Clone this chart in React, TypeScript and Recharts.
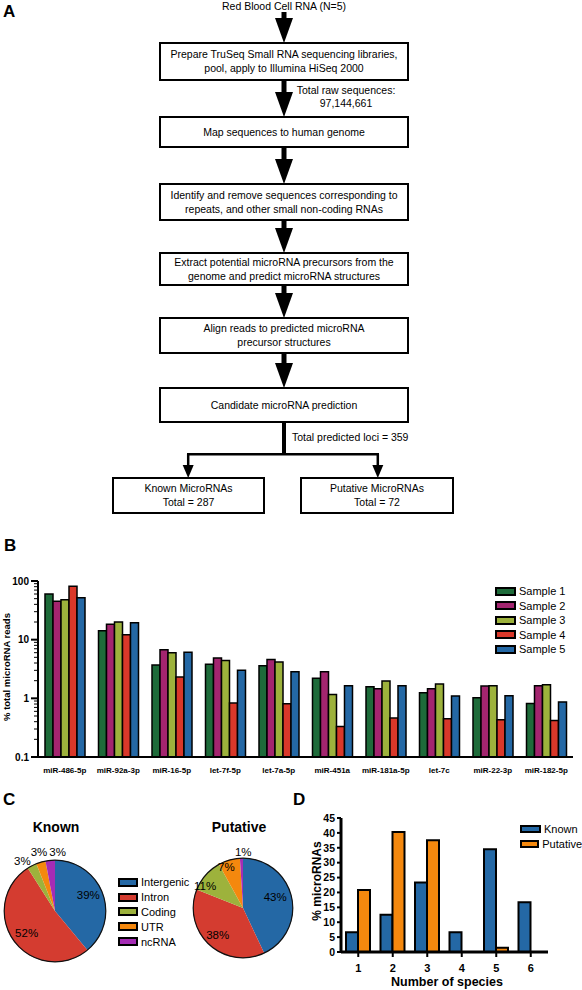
import React from 'react';
import { BarChart, Bar, XAxis, YAxis, PieChart, Pie, Cell, Legend } from 'recharts';

const FONT = '"Liberation Sans", Arial, Helvetica, sans-serif';

// ---------- Panel A (flowchart text) ----------
const flowSource = 'Red Blood Cell RNA (N=5)';
const flowSteps: string[][] = [
  ['Prepare TruSeq Small RNA sequencing libraries,', 'pool, apply to Illumina HiSeq 2000'],
  ['Map sequences to human genome'],
  ['Identify and remove sequences corresponding to', 'repeats, and other small non-coding RNAs'],
  ['Extract potential microRNA precursors from the', 'genome and predict microRNA structures'],
  ['Align reads to predicted microRNA', 'precursor structures'],
  ['Candidate microRNA prediction'],
];
const rawSeqNote = ['Total raw sequences:', '97,144,661'];
const lociNote = 'Total predicted loci = 359';
const knownBox = ['Known MicroRNAs', 'Total = 287'];
const putativeBox = ['Putative MicroRNAs', 'Total = 72'];

// ---------- Panel B ----------
const mirnaNames = ['miR-486-5p', 'miR-92a-3p', 'miR-16-5p', 'let-7f-5p', 'let-7a-5p', 'miR-451a', 'miR-181a-5p', 'let-7c', 'miR-22-3p', 'miR-182-5p'];
const sample1 = [60, 14.2, 3.7, 3.8, 3.6, 2.2, 1.58, 1.24, 1.02, 0.82];
const sample2 = [45, 18.4, 6.7, 4.85, 4.6, 2.83, 1.46, 1.45, 1.62, 1.64];
const sample3 = [48, 20, 6.0, 4.4, 4.15, 1.16, 1.97, 1.75, 1.64, 1.7];
const sample4 = [81, 12.1, 2.3, 0.83, 0.81, 0.33, 0.46, 0.45, 0.43, 0.42];
const sample5 = [52, 19.5, 6.1, 3.0, 2.85, 1.64, 1.64, 1.1, 1.11, 0.87];
const sampleNames = ['Sample 1', 'Sample 2', 'Sample 3', 'Sample 4', 'Sample 5'];
const sampleKeys = ['s1', 's2', 's3', 's4', 's5'];
const sampleColors = ['#1e6b3a', '#a3256f', '#9db23c', '#d9382a', '#2468a5'];
const logTicks = [0.1, 0.2, 0.3, 0.4, 0.5, 0.6, 0.7, 0.8, 0.9, 1, 2, 3, 4, 5, 6, 7, 8, 9, 10, 20, 30, 40, 50, 60, 70, 80, 90, 100];
const majorTicks = [0.1, 1, 10, 100];

// ---------- Panel C ----------
const regionNames = ['Intergenic', 'Intron', 'Coding', 'UTR', 'ncRNA'];
const knownPct = [39, 52, 3, 3, 3];
const putativePct = [43, 38, 11, 7, 1];
const regionColors = ['#2468a5', '#d43c30', '#9db23c', '#f4880e', '#a52cb5'];

// ---------- Panel D ----------
const speciesCounts = ['1', '2', '3', '4', '5', '6'];
const knownSpecies = [6.6, 12.5, 23.3, 6.6, 34.5, 16.7];
const putativeSpecies = [20.8, 40.3, 37.5, 0, 1.4, 0];
const speciesTicks = [0, 5, 10, 15, 20, 25, 30, 35, 40, 45];
const speciesSeries = ['Known', 'Putative'];
const speciesColors = ['#2468a5', '#f4880e'];

// ---------- built tables ----------
const mirnaData = mirnaNames.map((name, i) => ({
  name,
  s1: sample1[i],
  s2: sample2[i],
  s3: sample3[i],
  s4: sample4[i],
  s5: sample5[i],
}));
const knownPie = regionNames.map((name, i) => ({ name, value: knownPct[i] }));
const putativePie = regionNames.map((name, i) => ({ name, value: putativePct[i] }));
const ringData = [{ name: 'ring', value: 1 }];
const speciesData = speciesCounts.map((n, i) => ({ n, known: knownSpecies[i], putative: putativeSpecies[i] }));

// label placement styling (radius px, angle nudge deg)
const knownLabelR = [37, 36, 60, 61, 59];
const knownLabelA = [6, 2, 6, -1, -8];
const putLabelR = [34, 37, 44, 44, 56];
const putLabelA = [6, 0, 11, 6, -2];

const LogTick = (props: any) => {
  const { x, y, payload } = props;
  const v = payload.value;
  const major = majorTicks.includes(v);
  return (
    <g>
      <line x1={x - (major ? 7 : 4)} x2={x} y1={y} y2={y} stroke="#000" strokeWidth={major ? 2 : 1} />
      {major && (
        <text x={x - 9} y={y} dy={3.5} textAnchor="end" fontSize={10} fontWeight="bold" fill="#000" fontFamily={FONT}>
          {String(v)}
        </text>
      )}
    </g>
  );
};

const makePieLabel = (pcts: number[], radii: number[], nudges: number[]) => (p: any) => {
  const RAD = Math.PI / 180;
  const i = p.index;
  const a = (p.midAngle + nudges[i]) * RAD;
  const x = p.cx + radii[i] * Math.cos(a);
  const y = p.cy - radii[i] * Math.sin(a);
  return (
    <text key={`lbl-${i}`} x={x} y={y} dy={4} textAnchor="middle" fontSize={11.5} fill="#000" fontFamily={FONT}>
      {`${pcts[i]}%`}
    </text>
  );
};

const SwatchLegend = ({ names, colors, rowH, swW, swH }: { names: string[]; colors: string[]; rowH: number; swW: number; swH: number }) => (
  <div style={{ fontFamily: FONT, fontSize: 11, color: '#000' }}>
    {names.map((n, i) => (
      <div key={n} style={{ height: rowH, display: 'flex', alignItems: 'center', whiteSpace: 'nowrap' }}>
        <span
          style={{
            display: 'inline-block',
            width: swW,
            height: swH,
            boxSizing: 'border-box',
            background: colors[i],
            border: '2px solid #000',
            marginRight: 3,
          }}
        />
        <span>{n}</span>
      </div>
    ))}
  </div>
);

const Arrow = ({ x, y1, y2, shaft, headW, headH }: { x: number; y1: number; y2: number; shaft: number; headW: number; headH: number }) => (
  <g>
    <rect x={x - shaft / 2} y={y1} width={shaft} height={y2 - headH - y1 + 1} fill="#000" />
    <polygon points={`${x - headW / 2},${y2 - headH} ${x + headW / 2},${y2 - headH} ${x},${y2}`} fill="#000" />
  </g>
);

const BoxText = ({ x1, x2, y1, y2, lines }: { x1: number; x2: number; y1: number; y2: number; lines: string[] }) => {
  const cx = (x1 + x2) / 2;
  const cy = (y1 + y2) / 2;
  const lh = 14;
  const start = cy - ((lines.length - 1) * lh) / 2;
  return (
    <g>
      <rect x={x1} y={y1} width={x2 - x1} height={y2 - y1} fill="#fff" stroke="#000" strokeWidth={2} />
      {lines.map((l, i) => (
        <text key={i} x={cx} y={start + i * lh + 3.8} textAnchor="middle" fontSize={10.5} fill="#000" fontFamily={FONT}>
          {l}
        </text>
      ))}
    </g>
  );
};

// flowchart layout
const FX = 284;
const boxX1 = 160;
const boxX2 = 408;
const boxY = [
  [43, 80],
  [117, 147],
  [184, 220],
  [253, 285],
  [318, 353],
  [388, 422],
];
const arrowY = [
  [12, 43],
  [80, 117],
  [147, 184],
  [220, 253],
  [285, 318],
  [353, 388],
];

export default function App() {
  return (
    <div style={{ position: 'absolute', left: 0, top: 0, width: 582, height: 990, background: '#fff', fontFamily: FONT, overflow: 'hidden' }}>
      {/* Flowchart and free text */}
      <svg width={582} height={990} style={{ position: 'absolute', left: 0, top: 0 }}>
        <text x={3} y={17} fontSize={17} fontWeight="bold" fontFamily={FONT}>A</text>
        <text x={4} y={551} fontSize={17} fontWeight="bold" fontFamily={FONT}>B</text>
        <text x={3} y={805} fontSize={17} fontWeight="bold" fontFamily={FONT}>C</text>
        <text x={293} y={805} fontSize={17} fontWeight="bold" fontFamily={FONT}>D</text>

        <text x={FX} y={10} textAnchor="middle" fontSize={10.5} fontFamily={FONT}>{flowSource}</text>
        {arrowY.map(([a, b], i) => (
          <Arrow key={i} x={FX} y1={a} y2={b} shaft={5} headW={18} headH={25} />
        ))}
        {flowSteps.map((lines, i) => (
          <BoxText key={i} x1={boxX1} x2={boxX2} y1={boxY[i][0]} y2={boxY[i][1]} lines={lines} />
        ))}
        <text x={346} y={94} textAnchor="middle" fontSize={10.5} fontFamily={FONT}>{rawSeqNote[0]}</text>
        <text x={346} y={107} textAnchor="middle" fontSize={10.5} fontFamily={FONT}>{rawSeqNote[1]}</text>

        <rect x={FX - 2} y={422} width={4} height={33} fill="#000" />
        <text x={292} y={441} fontSize={10.5} fontFamily={FONT}>{lociNote}</text>
        <rect x={187} y={453} width={192} height={2.5} fill="#000" />
        <Arrow x={188.2} y1={454} y2={478} shaft={2.5} headW={11} headH={13} />
        <Arrow x={377.8} y1={454} y2={478} shaft={2.5} headW={11} headH={13} />
        <BoxText x1={113} x2={264} y1={478} y2={513} lines={knownBox} />
        <BoxText x1={301} x2={453} y1={478} y2={513} lines={putativeBox} />

        <text transform="translate(10,667) rotate(-90)" textAnchor="middle" fontSize={9.5} fontWeight="bold" fontFamily={FONT}>
          % total microRNA reads
        </text>

        <text x={56} y={832} textAnchor="middle" fontSize={14} fontWeight="bold" fontFamily={FONT}>Known</text>
        <text x={239} y={832} textAnchor="middle" fontSize={14} fontWeight="bold" fontFamily={FONT}>Putative</text>

        <text transform="translate(321,881) rotate(-90)" textAnchor="middle" fontSize={12} fontWeight="bold" fontFamily={FONT}>
          % microRNAs
        </text>
        <text x={447} y={986} textAnchor="middle" fontSize={12.5} fontWeight="bold" fontFamily={FONT}>Number of species</text>
      </svg>

      {/* Panel B */}
      <div style={{ position: 'absolute', left: 0, top: 560 }}>
        <BarChart width={582} height={225} data={mirnaData} margin={{ top: 21, right: 9, bottom: 8, left: 0 }} barCategoryGap={7} barGap={0}>
          <XAxis
            dataKey="name"
            interval={0}
            tickLine={false}
            tickSize={0}
            tickMargin={10}
            height={20}
            axisLine={{ stroke: '#000', strokeWidth: 2 }}
            tick={{ fontSize: 8, fontWeight: 'bold', fill: '#000', fontFamily: FONT }}
          />
          <YAxis
            type="number"
            scale="log"
            domain={[0.1, 100]}
            allowDataOverflow
            ticks={logTicks}
            interval={0}
            width={38}
            tickLine={false}
            tickSize={0}
            tickMargin={0}
            axisLine={{ stroke: '#000', strokeWidth: 2 }}
            tick={<LogTick />}
          />
          {sampleKeys.map((k, i) => (
            <Bar key={k} dataKey={k} name={sampleNames[i]} fill={sampleColors[i]} stroke="#000" strokeWidth={1.5} isAnimationActive={false} />
          ))}
          <Legend
            layout="vertical"
            align="center"
            verticalAlign="middle"
            wrapperStyle={{ left: 495, top: 24, width: 85, height: 75 }}
            content={() => <SwatchLegend names={sampleNames} colors={sampleColors} rowH={14.5} swW={21} swH={9} />}
          />
        </BarChart>
      </div>

      {/* Panel C */}
      <div style={{ position: 'absolute', left: 0, top: 780 }}>
        <PieChart width={300} height={200} margin={{ top: 0, right: 0, bottom: 0, left: 0 }}>
          <Pie
            data={knownPie}
            dataKey="value"
            nameKey="name"
            cx={55}
            cy={131}
            outerRadius={51}
            startAngle={90}
            endAngle={-270}
            stroke="none"
            labelLine={false}
            label={makePieLabel(knownPct, knownLabelR, knownLabelA)}
            isAnimationActive={false}
          >
            {knownPie.map((d, i) => (
              <Cell key={d.name} fill={regionColors[i]} />
            ))}
          </Pie>
          <Pie data={ringData} dataKey="value" cx={55} cy={131} innerRadius={50.2} outerRadius={51.4} fill="#111" stroke="none" isAnimationActive={false} />
          <Pie
            data={putativePie}
            dataKey="value"
            nameKey="name"
            cx={243}
            cy={128}
            outerRadius={50}
            startAngle={90}
            endAngle={-270}
            stroke="none"
            labelLine={false}
            label={makePieLabel(putativePct, putLabelR, putLabelA)}
            isAnimationActive={false}
          >
            {putativePie.map((d, i) => (
              <Cell key={d.name} fill={regionColors[i]} />
            ))}
          </Pie>
          <Pie data={ringData} dataKey="value" cx={243} cy={128} innerRadius={49.2} outerRadius={50.4} fill="#111" stroke="none" isAnimationActive={false} />
          <Legend
            layout="vertical"
            align="center"
            verticalAlign="middle"
            wrapperStyle={{ left: 118, top: 95, width: 80, height: 75 }}
            content={() => <SwatchLegend names={regionNames} colors={regionColors} rowH={14.8} swW={20} swH={9} />}
          />
        </PieChart>
      </div>

      {/* Panel D */}
      <div style={{ position: 'absolute', left: 290, top: 790 }}>
        <BarChart width={292} height={200} data={speciesData} margin={{ top: 28, right: 34, bottom: 14, left: 0 }} barCategoryGap={5} barGap={0}>
          <XAxis
            dataKey="n"
            interval={0}
            height={24}
            tickSize={5}
            tickMargin={7}
            axisLine={{ stroke: '#000', strokeWidth: 3 }}
            tickLine={{ stroke: '#000', strokeWidth: 2 }}
            tick={{ fontSize: 11, fontWeight: 'bold', fill: '#000', fontFamily: FONT }}
          />
          <YAxis
            type="number"
            domain={[0, 45]}
            ticks={speciesTicks}
            interval={0}
            width={51}
            tickSize={4}
            tickMargin={2}
            axisLine={{ stroke: '#000', strokeWidth: 3 }}
            tickLine={{ stroke: '#000', strokeWidth: 2 }}
            tick={{ fontSize: 10.5, fontWeight: 'bold', fill: '#000', fontFamily: FONT }}
          />
          <Bar dataKey="known" name={speciesSeries[0]} fill={speciesColors[0]} stroke="#000" strokeWidth={2} isAnimationActive={false} />
          <Bar dataKey="putative" name={speciesSeries[1]} fill={speciesColors[1]} stroke="#000" strokeWidth={2} isAnimationActive={false} />
          <Legend
            layout="vertical"
            align="center"
            verticalAlign="middle"
            wrapperStyle={{ left: 230, top: 31, width: 62, height: 32 }}
            content={() => <SwatchLegend names={speciesSeries} colors={speciesColors} rowH={15} swW={21} swH={8} />}
          />
        </BarChart>
      </div>
    </div>
  );
}
